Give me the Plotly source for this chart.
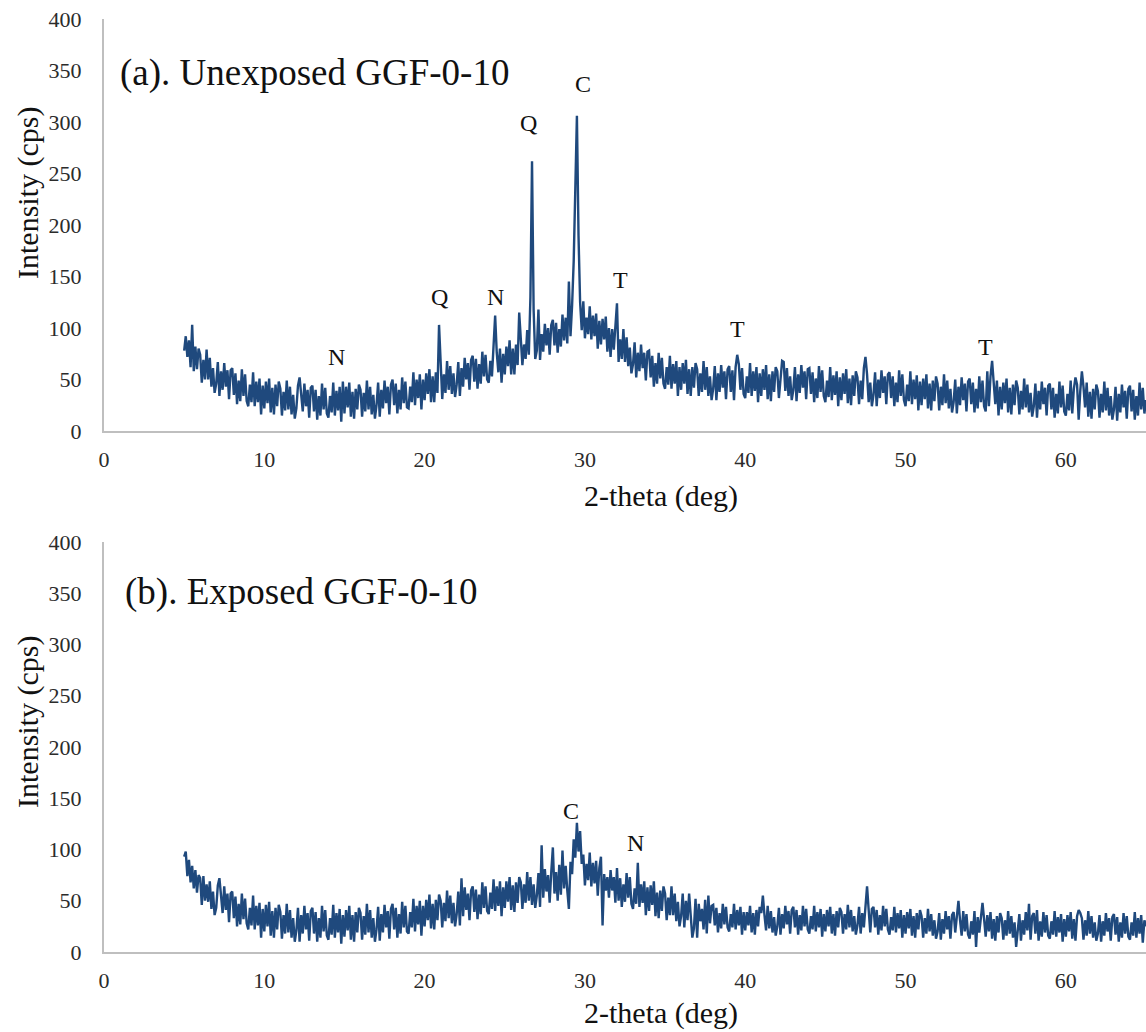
import plotly.graph_objects as go

# Scan settings (degrees 2-theta)
two_theta_start = 5.0
two_theta_step = 0.1

# (a) Unexposed GGF-0-10, intensity in cps, one row per degree (5..64, then 65)
intensity_a = [
    78, 92, 72, 88, 62, 103, 58, 82, 60, 80,
    74, 47, 69, 50, 79, 50, 71, 43, 61, 37,
    46, 67, 34, 58, 40, 66, 43, 59, 31, 59,
    61, 35, 56, 26, 49, 29, 60, 34, 55, 29,
    24, 45, 28, 57, 24, 48, 28, 51, 16, 44,
    22, 48, 27, 51, 18, 42, 16, 45, 24, 48,
    41, 15, 38, 20, 49, 21, 43, 16, 35, 12,
    22, 44, 52, 37, 19, 46, 24, 40, 13, 42,
    44, 19, 40, 11, 34, 15, 46, 21, 42, 17,
    13, 34, 18, 47, 15, 39, 20, 43, 9, 48,
    17, 43, 23, 47, 14, 38, 12, 41, 21, 45,
    40, 14, 37, 19, 49, 21, 43, 16, 35, 12,
    25, 47, 14, 40, 22, 49, 27, 43, 16, 45,
    50, 25, 46, 17, 40, 21, 52, 27, 48, 23,
    22, 43, 28, 57, 25, 50, 32, 55, 21, 50,
    30, 56, 36, 60, 28, 53, 28, 57, 37, 103,
    57, 31, 55, 37, 68, 40, 63, 36, 56, 33,
    45, 67, 34, 61, 43, 71, 50, 66, 40, 69,
    73, 48, 70, 41, 65, 46, 77, 53, 74, 50,
    47, 68, 53, 83, 112, 76, 57, 80, 47, 75,
    55, 82, 63, 88, 55, 80, 55, 84, 64, 115,
    85, 64, 84, 70, 98, 74, 130, 262, 118, 70,
    78, 118, 69, 94, 77, 104, 83, 100, 74, 103,
    108, 83, 105, 76, 99, 82, 113, 88, 110, 85,
    145, 92, 122, 165, 235, 306, 190, 125, 98, 126,
    90, 110, 94, 121, 89, 112, 92, 114, 80, 107,
    84, 109, 89, 111, 77, 100, 72, 99, 79, 102,
    124, 67, 89, 70, 99, 67, 91, 63, 81, 56,
    65, 86, 52, 76, 58, 84, 61, 76, 49, 77,
    78, 52, 73, 43, 66, 46, 76, 51, 71, 46,
    41, 62, 45, 73, 41, 65, 46, 68, 34, 62,
    40, 66, 46, 69, 36, 60, 34, 62, 42, 66,
    60, 34, 56, 38, 68, 40, 62, 34, 53, 30,
    41, 63, 30, 56, 38, 64, 42, 58, 31, 60,
    63, 38, 59, 30, 62, 74, 65, 40, 61, 36,
    32, 53, 37, 66, 34, 58, 39, 62, 28, 56,
    34, 60, 40, 64, 31, 55, 29, 58, 38, 62,
    58, 32, 55, 68, 67, 39, 61, 34, 53, 30,
    40, 62, 29, 55, 37, 64, 42, 58, 31, 60,
    61, 36, 57, 28, 51, 32, 63, 38, 59, 34,
    28, 49, 33, 62, 30, 54, 35, 58, 24, 52,
    30, 56, 36, 60, 27, 51, 25, 54, 34, 58,
    52, 26, 49, 31, 61, 72, 55, 28, 47, 24,
    35, 57, 24, 50, 32, 59, 37, 53, 26, 55,
    57, 32, 53, 24, 47, 28, 59, 34, 55, 30,
    24, 45, 29, 58, 26, 50, 31, 54, 20, 48,
    25, 51, 31, 55, 22, 46, 20, 49, 29, 53,
    46, 20, 43, 25, 55, 27, 49, 22, 41, 18,
    28, 50, 17, 43, 25, 52, 30, 46, 19, 48,
    51, 26, 47, 18, 41, 22, 53, 28, 49, 24,
    19, 58, 24, 53, 68, 45, 26, 49, 15, 43,
    21, 47, 27, 51, 18, 42, 16, 45, 25, 49,
    42, 16, 39, 21, 51, 23, 45, 18, 37, 14,
    24, 46, 13, 39, 21, 48, 26, 42, 15, 44,
    46, 21, 42, 13, 36, 17, 48, 23, 44, 19,
    15, 36, 20, 49, 17, 41, 52, 45, 11, 39,
    58, 43, 23, 47, 14, 38, 12, 41, 21, 45,
    39, 13, 36, 18, 48, 20, 42, 15, 34, 11,
    21, 43, 10, 36, 18, 45, 23, 39, 12, 41,
    44, 19, 40, 11, 34, 15, 47, 21, 42, 17,
    30,
]

# (b) Exposed GGF-0-10, intensity in cps, one row per degree (5..64, then 65)
intensity_b = [
    93, 98, 74, 90, 68, 84, 62, 80, 58, 75,
    72, 46, 74, 50, 66, 49, 69, 42, 59, 36,
    43, 65, 72, 56, 38, 64, 41, 57, 29, 57,
    59, 33, 54, 25, 47, 27, 57, 32, 52, 28,
    22, 43, 26, 55, 22, 45, 26, 48, 14, 42,
    20, 46, 25, 49, 16, 40, 14, 43, 22, 46,
    39, 13, 36, 18, 47, 19, 41, 14, 33, 10,
    21, 43, 10, 36, 18, 45, 22, 38, 11, 40,
    43, 18, 39, 10, 33, 14, 45, 20, 41, 16,
    12, 33, 17, 46, 14, 38, 19, 42, 8, 36,
    15, 41, 21, 45, 12, 36, 10, 39, 19, 43,
    38, 12, 35, 17, 47, 19, 41, 14, 33, 10,
    22, 44, 11, 37, 19, 46, 24, 40, 13, 42,
    47, 22, 43, 14, 37, 18, 49, 24, 45, 20,
    18, 39, 24, 52, 20, 45, 27, 50, 16, 45,
    25, 51, 31, 56, 23, 47, 22, 51, 31, 56,
    50, 24, 48, 30, 60, 33, 55, 28, 48, 25,
    37, 59, 26, 72, 35, 63, 41, 57, 31, 60,
    64, 39, 61, 32, 56, 37, 68, 43, 64, 40,
    37, 58, 42, 71, 40, 64, 45, 69, 35, 63,
    43, 69, 49, 73, 41, 65, 39, 68, 48, 73,
    68, 42, 66, 48, 78, 50, 73, 46, 66, 43,
    55, 77, 44, 104, 53, 81, 59, 75, 48, 78,
    102, 57, 78, 50, 85, 56, 99, 62, 84, 60,
    42, 88, 76, 110, 92, 126, 98, 118, 86, 95,
    65, 86, 70, 97, 64, 87, 67, 89, 55, 82,
    93, 26, 76, 60, 73, 53, 80, 60, 73, 48,
    82, 50, 72, 44, 66, 49, 77, 53, 73, 47,
    42, 62, 47, 87, 44, 66, 48, 69, 36, 63,
    40, 65, 46, 69, 35, 58, 33, 60, 40, 64,
    57, 31, 53, 36, 64, 36, 57, 30, 49, 25,
    35, 57, 24, 50, 31, 57, 36, 14, 23, 52,
    14, 47, 30, 42, 22, 51, 18, 55, 28, 45,
    46, 26, 43, 19, 38, 23, 47, 27, 44, 24,
    20, 37, 24, 47, 22, 41, 26, 44, 17, 39,
    21, 39, 26, 45, 19, 38, 17, 41, 25, 44,
    38, 55, 36, 21, 45, 23, 40, 19, 34, 16,
    25, 43, 17, 37, 23, 45, 27, 40, 18, 41,
    44, 24, 41, 17, 36, 21, 45, 25, 42, 22,
    18, 35, 22, 45, 20, 39, 24, 42, 15, 37,
    20, 41, 25, 44, 18, 37, 16, 40, 24, 43,
    39, 18, 37, 22, 46, 24, 41, 20, 35, 17,
    26, 44, 18, 38, 24, 46, 64, 41, 19, 42,
    44, 24, 41, 17, 36, 21, 45, 25, 42, 22,
    17, 34, 21, 44, 19, 38, 23, 41, 14, 36,
    18, 39, 23, 42, 16, 35, 14, 38, 22, 41,
    35, 14, 33, 18, 42, 20, 37, 16, 31, 13,
    20, 38, 12, 32, 18, 40, 22, 35, 13, 36,
    39, 19, 36, 50, 31, 16, 40, 20, 37, 17,
    13, 30, 17, 40, 5, 34, 19, 37, 48, 32,
    15, 36, 20, 39, 13, 32, 11, 35, 19, 38,
    33, 12, 31, 16, 40, 18, 35, 14, 29, 5,
    19, 37, 11, 31, 17, 39, 21, 47, 12, 35,
    38, 18, 41, 11, 30, 15, 39, 19, 36, 16,
    13, 30, 17, 40, 15, 34, 19, 37, 10, 32,
    15, 36, 20, 39, 13, 32, 11, 35, 41, 38,
    33, 12, 31, 16, 40, 18, 35, 14, 29, 11,
    18, 36, 10, 30, 16, 38, 20, 33, 11, 34,
    37, 17, 34, 10, 29, 14, 38, 18, 35, 15,
    12, 29, 16, 39, 14, 33, 18, 36, 9, 31,
    25,
]

# Phase labels: N, Q, C, T with their anchor points (2-theta, cps)
phase_labels_a = ["N", "Q", "N", "Q", "C", "T", "T", "T"]
phase_x_a = [14.5, 20.9, 24.4, 26.5, 29.9, 32.2, 39.5, 55.0]
phase_y_a = [72, 130, 130, 299, 337, 147, 99, 82]

phase_labels_b = ["C", "N"]
phase_x_b = [29.1, 33.15]
phase_y_b = [138, 106]

panel_titles = ["(a). Unexposed GGF-0-10", "(b). Exposed GGF-0-10"]
x_ticks = [0, 10, 20, 30, 40, 50, 60]
y_ticks = [0, 50, 100, 150, 200, 250, 300, 350, 400]

W, H = 1146, 1032
SERIF = "Liberation Serif, Times New Roman, serif"
LINE_COLOR = "#1F497D"
AXIS_COLOR = "#BFBFBF"
TICK_COLOR = "#2b2b2b"
TEXT_COLOR = "#111111"


def py(px):
    return 1 - px / H


x_domain = [104 / W, 1.0]
top_domain = [py(431), py(19)]
bottom_domain = [py(952), py(542)]

fig = go.Figure()
fig.add_trace(go.Scatter(
    x0=two_theta_start, dx=two_theta_step, y=intensity_a,
    mode="lines", line=dict(color=LINE_COLOR, width=2.4),
    xaxis="x", yaxis="y", showlegend=False, hoverinfo="skip",
))
fig.add_trace(go.Scatter(
    x0=two_theta_start, dx=two_theta_step, y=intensity_b,
    mode="lines", line=dict(color=LINE_COLOR, width=2.4),
    xaxis="x2", yaxis="y2", showlegend=False, hoverinfo="skip",
))

x_common = dict(
    range=[0, 65], tickvals=x_ticks, showgrid=False, zeroline=False,
    showline=True, linecolor=AXIS_COLOR, linewidth=2, ticks="",
    tickfont=dict(family=SERIF, size=22, color=TICK_COLOR),
    ticklabelstandoff=8, domain=x_domain, automargin=False,
)
y_common = dict(
    range=[0, 400], tickvals=y_ticks, showgrid=False, zeroline=False,
    showline=True, linecolor=AXIS_COLOR, linewidth=2, ticks="",
    tickfont=dict(family=SERIF, size=22, color=TICK_COLOR),
    ticklabelstandoff=16, automargin=False,
)

annotations = []
# Panel titles
annotations.append(dict(xref="paper", yref="paper", x=118 / W, y=py(73),
                        xanchor="left", yanchor="middle", text=panel_titles[0],
                        showarrow=False, font=dict(family=SERIF, size=37, color=TEXT_COLOR)))
annotations.append(dict(xref="paper", yref="paper", x=123 / W, y=py(592),
                        xanchor="left", yanchor="middle", text=panel_titles[1],
                        showarrow=False, font=dict(family=SERIF, size=37, color=TEXT_COLOR)))
# Axis titles
for yc in (496, 1013):
    annotations.append(dict(xref="paper", yref="paper", x=661 / W, y=py(yc),
                            xanchor="center", yanchor="middle", text="2-theta (deg)",
                            showarrow=False, font=dict(family=SERIF, size=30, color=TEXT_COLOR)))
for yc in (193, 722):
    annotations.append(dict(xref="paper", yref="paper", x=28 / W, y=py(yc),
                            xanchor="center", yanchor="middle", text="Intensity (cps)",
                            textangle=-90, showarrow=False,
                            font=dict(family=SERIF, size=30, color=TEXT_COLOR)))
# Phase labels
for lab, xv, yv in zip(phase_labels_a, phase_x_a, phase_y_a):
    annotations.append(dict(xref="x", yref="y", x=xv, y=yv, text=lab, showarrow=False,
                            xanchor="center", yanchor="middle",
                            font=dict(family=SERIF, size=24, color=TEXT_COLOR)))
for lab, xv, yv in zip(phase_labels_b, phase_x_b, phase_y_b):
    annotations.append(dict(xref="x2", yref="y2", x=xv, y=yv, text=lab, showarrow=False,
                            xanchor="center", yanchor="middle",
                            font=dict(family=SERIF, size=24, color=TEXT_COLOR)))

fig.update_layout(
    width=W, height=H,
    margin=dict(l=0, r=0, t=0, b=0, autoexpand=False),
    paper_bgcolor="white", plot_bgcolor="white",
    xaxis=dict(x_common, anchor="y"),
    yaxis=dict(y_common, domain=top_domain, anchor="x"),
    xaxis2=dict(x_common, anchor="y2"),
    yaxis2=dict(y_common, domain=bottom_domain, anchor="x2"),
    annotations=annotations,
    showlegend=False,
)

fig.write_html("out.html")
